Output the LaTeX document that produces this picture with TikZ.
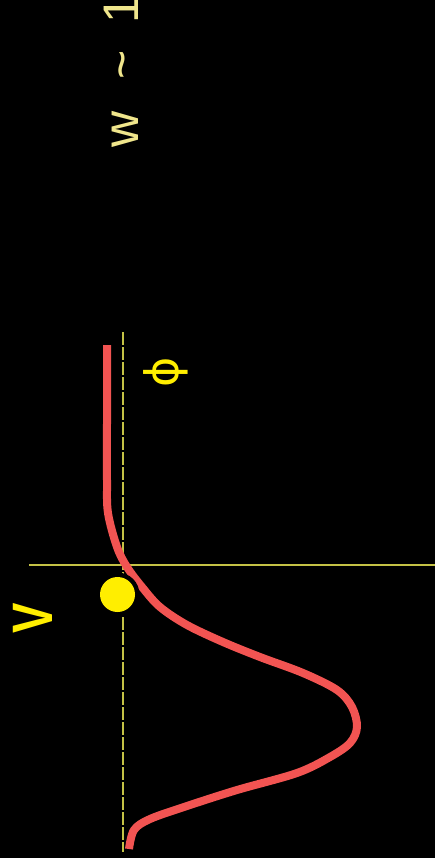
\documentclass[tikz,border=0pt]{standalone}
\usepackage{fontspec}
\setmainfont{Liberation Sans}
\newfontfamily\phifont{DejaVu Sans}
\definecolor{guidecol}{RGB}{196,194,70}
\definecolor{curvecol}{RGB}{242,84,82}
\definecolor{dotcol}{RGB}{255,238,0}
\definecolor{textcol}{RGB}{240,230,140}
\tikzset{
  guide/.style={draw=guidecol, line width=2pt},
  dashguide/.style={guide, dash pattern=on 13pt off 2pt},
  curve/.style={draw=curvecol, line width=8pt, line cap=butt, line join=round},
  rotlabel/.style={inner sep=0pt, outer sep=0pt, rotate=90},
}
\begin{document}
\begin{tikzpicture}[x=1pt,y=-1pt]
\fill[black] (0,0) rectangle (435,858);
\useasboundingbox (0,0) rectangle (435,858);
\clip (0,0) rectangle (435,858);
% guide lines
\coordinate (dtop) at (123,332);
\coordinate (dbot) at (123,852);
\coordinate (hleft) at (29,565);
\coordinate (hright) at (435,565);
\draw[dashguide] (dtop) -- (dbot);
\draw[guide, line width=2.5pt] (hleft) -- (hright);
% curve
\draw[curve] plot[smooth, tension=0.55] coordinates {
 (107,345) (107,420) (107,480) (108,513) (117,547) (127,567) (142,587)
 (160,607) (187,625) (223,642) (260,657) (303,673) (337,690) (352,707)
 (357,727) (350,743) (330,757) (297,773) (237,790) (187,806) (150,819)
 (134,830) (129,849)};
% dot
\fill[black] (117.5,594.5) circle (22);
\node[circle, fill=dotcol, minimum size=35pt, inner sep=0pt] (dot) at (117.5,594.5) {};
% labels
\node[rotlabel, anchor=base west, text=textcol, font=\fontsize{50}{50}\selectfont] (wlabel) at (138,148)
  {w\hspace{32pt}\textasciitilde\hspace{27pt}1};
\node[rotlabel, text=dotcol, font=\phifont\fontsize{46}{46}\selectfont] (philabel) at (165.5,372) {ϕ};
\node[rotlabel, text=dotcol, font=\fontsize{57}{57}\selectfont\bfseries] (vlabel) at (32.5,618) {\scalebox{0.8}[1]{V}};
\end{tikzpicture}
\end{document}
